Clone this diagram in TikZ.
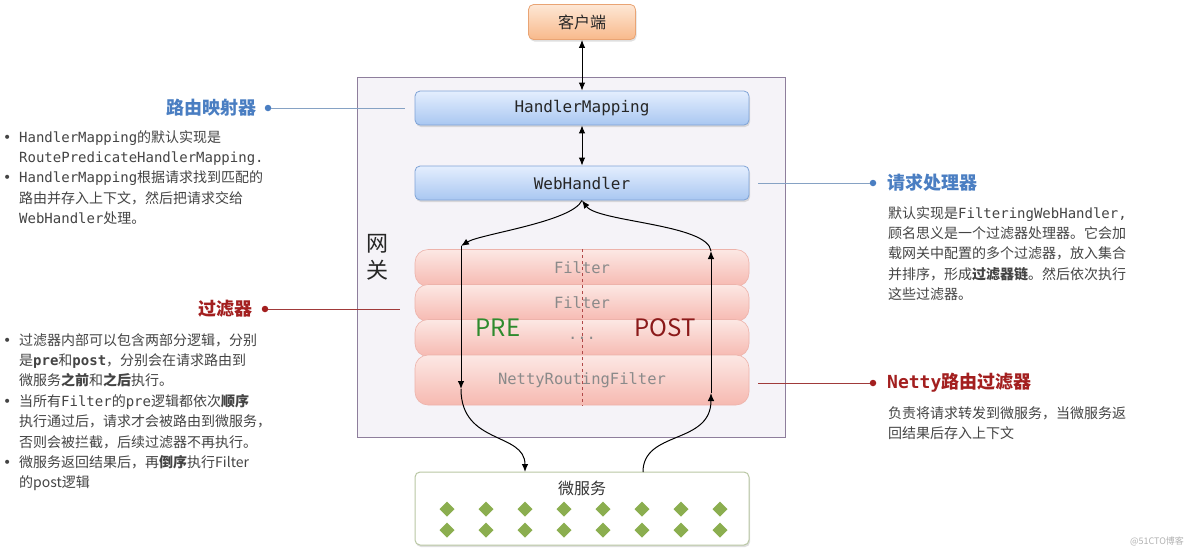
\documentclass[tikz,border=0pt]{standalone}
\usepackage{fontspec}
\setmainfont{Noto Sans CJK SC}
\setmonofont{DejaVu Sans Mono}
\newfontfamily\bulfont{DejaVu Sans}
\usetikzlibrary{arrows.meta,shadows}
\definecolor{tgray}{HTML}{444444}
\definecolor{titleblue}{HTML}{4A7EC2}
\definecolor{titlered}{HTML}{A31F1F}
\definecolor{gwfill}{HTML}{F5F3F8}
\definecolor{gwdraw}{HTML}{8E7E9C}
\definecolor{bluetop}{HTML}{E4EEFE}
\definecolor{bluebot}{HTML}{A9C7F1}
\definecolor{bluedraw}{HTML}{7FA3D6}
\definecolor{pinktop}{HTML}{FCE8E4}
\definecolor{pinkbot}{HTML}{F6B9B1}
\definecolor{pinkdraw}{HTML}{EDB3AB}
\definecolor{orangetop}{HTML}{FDE7D5}
\definecolor{orangebot}{HTML}{F8B98B}
\definecolor{orangedraw}{HTML}{E9A474}
\definecolor{msdraw}{HTML}{B9C7A4}
\definecolor{diamondc}{HTML}{8BAE4F}
\definecolor{pregreen}{HTML}{2E8B2E}
\definecolor{postred}{HTML}{8B1A1A}
\definecolor{linkblue}{HTML}{86A2C4}
\definecolor{linkred}{HTML}{A03A3A}
\definecolor{filtergray}{HTML}{8A8A8A}
\definecolor{dashred}{HTML}{B04848}
\newcommand{\mtt}[1]{{\ttfamily #1}}
\newcommand{\bul}{\makebox[17pt][l]{\hspace*{1pt}{\bulfont •}}}
\newcommand{\myind}{\hspace*{17pt}}
\tikzset{
  desc/.style={font=\fontsize{14pt}{20.4pt}\selectfont, text=tgray, align=left, inner sep=0pt, anchor=north west},
  ttitle/.style={font=\fontsize{18pt}{22pt}\selectfont\bfseries, inner sep=0pt},
  bluebox/.style={draw=bluedraw, line width=0.8pt, rounded corners=5pt, top color=bluetop, bottom color=bluebot,
     minimum width=334pt, minimum height=34pt, font=\fontsize{16pt}{18pt}\selectfont\ttfamily, text=black!85,
     drop shadow={opacity=0.25, shadow xshift=1pt, shadow yshift=-2pt}},
  filterbox/.style={draw=pinkdraw, line width=0.6pt, rounded corners=13pt, top color=pinktop, bottom color=pinkbot,
     minimum width=334pt, font=\fontsize{15.5pt}{18pt}\selectfont\ttfamily, text=filtergray},
  arr/.style={-{Latex[length=8pt,width=6.5pt]}, line width=1pt, black},
  darr/.style={{Latex[length=8pt,width=6.5pt]}-{Latex[length=8pt,width=6.5pt]}, line width=1pt, black},
  dotb/.style={circle, fill=titleblue, inner sep=0pt, minimum size=6.5pt},
  dotr/.style={circle, fill=titlered, inner sep=0pt, minimum size=6.5pt},
}
\begin{document}
\begin{tikzpicture}[x=1pt,y=-1pt]
\useasboundingbox (0,0) rectangle (1184,550);
\fill[white] (0,0) rectangle (1184,550);

% gateway
\node[draw=gwdraw, fill=gwfill, line width=0.8pt, minimum width=428pt, minimum height=360pt, inner sep=0pt] (gw) at (571,257) {};
\node[font=\fontsize{22pt}{27pt}\selectfont, align=center, inner sep=0pt, text=black!85] (gwlabel) at (377,257) {网\\关};

% client
\node[draw=orangedraw, line width=0.8pt, rounded corners=5pt, top color=orangetop, bottom color=orangebot,
      minimum width=107pt, minimum height=35pt, font=\fontsize{16pt}{18pt}\selectfont, text=black!85,
      drop shadow={opacity=0.25, shadow xshift=1pt, shadow yshift=-2pt}] (client) at (582,22) {客户端};

% handlers
\node[bluebox] (hm) at (582,108) {HandlerMapping};
\node[bluebox] (wh) at (582,183) {WebHandler};

% filters
\node[filterbox, minimum height=37pt] (f1) at (582,268) {Filter};
\node[filterbox, minimum height=37pt] (f2) at (582,303) {Filter};
\node[filterbox, minimum height=37pt] (f3) at (582,338) {...};
\node[filterbox, minimum height=50pt] (f4) at (582,380) {NettyRoutingFilter};
\draw[dashred, dashed, line width=0.8pt] (f1.north) -- (f4.south);
\node[font=\fontsize{24pt}{26pt}\selectfont, text=pregreen, inner sep=0pt] (pre) at (498,328) {PRE};
\node[font=\fontsize{24pt}{26pt}\selectfont, text=postred, inner sep=0pt] (post) at (665,328) {POST};

% microservices
\node[draw=msdraw, fill=white, line width=1pt, rounded corners=5pt, minimum width=334pt, minimum height=73pt,
      drop shadow={opacity=0.25, shadow xshift=1pt, shadow yshift=-2pt}] (ms) at (582,508.5) {};
\node[font=\fontsize{16pt}{18pt}\selectfont, text=black!80, inner sep=0pt] (mslabel) at (582,488) {微服务};
\foreach \i in {0,...,7} {
  \foreach \yy in {509,530} {
    \fill[diamondc] ({447+39*\i},\yy) +(0,-7.5) -- +(7.5,0) -- +(0,7.5) -- +(-7.5,0) -- cycle;
  }
}

% connectors
\draw[darr] (client.south) -- (hm.north);
\draw[darr] (hm.south) -- (wh.north);
\coordinate (lt) at (461,246);
\coordinate (lb) at (461,389);
\coordinate (rt) at (711,251);
\coordinate (rb) at (711,393);
\coordinate (msin) at (525,472);
\coordinate (msout) at (643,472);
\draw[arr] (wh.south) .. controls (572,222) and (480,234) .. (lt);
\draw[arr] (lt) -- (lb);
\draw[arr] (lb) .. controls (461,445) and (525,432) .. (msin);
\draw[arr] (msout) .. controls (643,430) and (711,445) .. (rb);
\draw[arr] (rb) -- (rt);
\draw[arr] (rt) .. controls (708,224) and (598,222) .. (wh.south);

% left annotations
\node[ttitle, text=titleblue, anchor=east] (t1) at (257,108) {路由映射器};
\node[dotb] (d1) at (268,108) {};
\coordinate (e1) at (405,108);
\draw[linkblue, line width=1pt] (d1) -- (e1);
\node[desc] (x1) at (2,130) {%
\bul\mtt{HandlerMapping}的默认实现是\\
\myind\mtt{RoutePredicateHandlerMapping.}\\
\bul\mtt{HandlerMapping}根据请求找到匹配的\\
\myind 路由并存入上下文，然后把请求交给\\
\myind\mtt{WebHandler}处理。};

\node[ttitle, text=titlered, anchor=east] (t2) at (253,309) {过滤器};
\node[dotr] (d2) at (265,309) {};
\coordinate (e2) at (400,309);
\draw[linkred, line width=1pt] (d2) -- (e2);
\node[desc] (x2) at (2,333) {%
\bul 过滤器内部可以包含两部分逻辑，分别\\
\myind 是\textbf{\mtt{pre}}和\textbf{\mtt{post}}，分别会在请求路由到\\
\myind 微服务\textbf{之前}和\textbf{之后}执行。\\
\bul 当所有\mtt{Filter}的\mtt{pre}逻辑都依次\textbf{顺序}\\
\myind 执行通过后，请求才会被路由到微服务，\\
\myind 否则会被拦截，后续过滤器不再执行。\\
\bul 微服务返回结果后，再\textbf{倒序}执行Filter\\
\myind 的post逻辑};

% right annotations
\node[dotb] (d3) at (873,183) {};
\coordinate (e3) at (758,183);
\draw[linkblue, line width=1pt] (e3) -- (d3);
\node[ttitle, text=titleblue, anchor=west] (t3) at (887,183) {请求处理器};
\node[desc] (x3) at (888,206) {%
默认实现是\mtt{FilteringWebHandler,}\\
顾名思义是一个过滤器处理器。它会加\\
载网关中配置的多个过滤器，放入集合\\
并排序，形成\textbf{过滤器链}。然后依次执行\\
这些过滤器。};

\node[dotr] (d4) at (873,383) {};
\coordinate (e4) at (758,383);
\draw[linkred, line width=1pt] (e4) -- (d4);
\node[ttitle, text=titlered, anchor=west] (t4) at (887,383) {\mtt{Netty}路由过滤器};
\node[desc] (x4) at (888,406) {%
负责将请求转发到微服务，当微服务返\\
回结果后存入上下文};

\node[font=\fontsize{9pt}{10pt}\selectfont, text=black!30, inner sep=0pt] (wm) at (1157,541) {@51CTO博客};
\end{tikzpicture}
\end{document}
